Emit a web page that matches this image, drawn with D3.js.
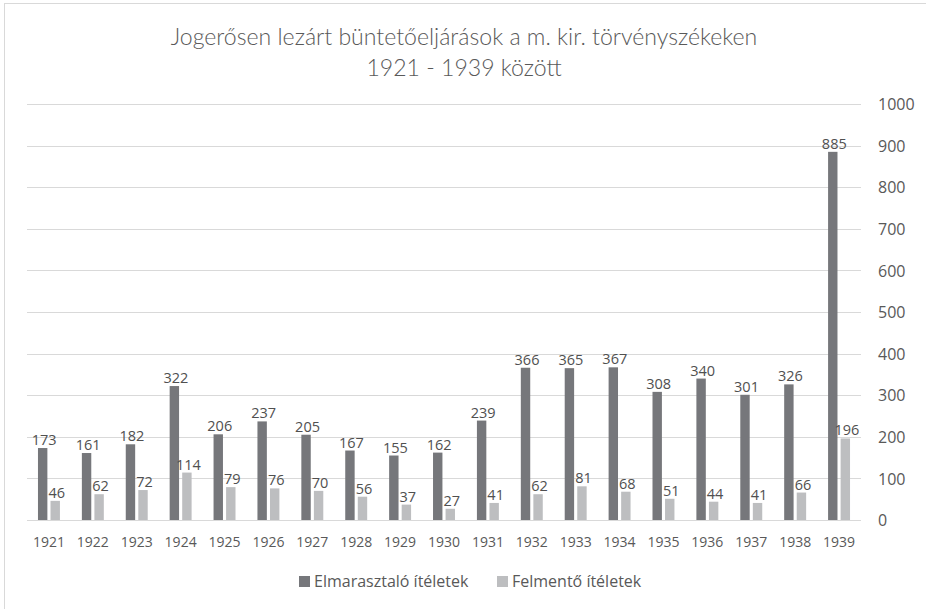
<!DOCTYPE html>
<html><head><meta charset="utf-8">
<script src="https://cdn.jsdelivr.net/npm/d3@7"></script>
<style>html,body{margin:0;padding:0;background:#fff;}svg{display:block;}</style>
</head><body>
<svg id="c" width="926" height="609"></svg>
<script>
const years = ["1921","1922","1923","1924","1925","1926","1927","1928","1929","1930","1931","1932","1933","1934","1935","1936","1937","1938","1939"];
const elmarasztalo = [173,161,182,322,206,237,205,167,155,162,239,366,365,367,308,340,301,326,885];
const felmento = [46,62,72,114,79,76,70,56,37,27,41,62,81,68,51,44,41,66,196];
const seriesNames = ["Elmarasztaló ítéletek","Felmentő ítéletek"];
const yTicks = [0,100,200,300,400,500,600,700,800,900,1000];
const titleLines = ["Jogerősen lezárt büntetőeljárások a m. kir. törvényszékeken","1921 - 1939 között"];

const colors = ["#76777b","#bdbec0"];
const textColor = "#595959";
const gridColor = "#d9d9d9";
const font = "'Open Sans', sans-serif";

const svg = d3.select("#c");
svg.append("rect").attr("x",4.5).attr("y",3.5).attr("width",930).attr("height",620)
  .attr("fill","#fff").attr("stroke","#d9d9d9").attr("stroke-width",1);

const pLeft = 27, pRight = 861, pTop = 104, pBottom = 520;
const x = d3.scaleBand().domain(years).range([pLeft,pRight]).padding(0);
const bw = x.bandwidth();
const xs = d3.scaleBand().domain([0,1]).range([bw*0.25, bw*0.75]).paddingInner(0.25).paddingOuter(0);
const y = d3.scaleLinear().domain([0,1000]).range([pBottom,pTop]);

// gridlines
svg.append("g").selectAll("line").data(yTicks).join("line")
  .attr("x1",pLeft).attr("x2",pRight)
  .attr("y1",d=>Math.round(y(d))+0.5).attr("y2",d=>Math.round(y(d))+0.5)
  .attr("stroke",gridColor).attr("stroke-width",1);

// right axis labels
const yAxis = d3.axisRight(y).tickValues(yTicks).tickSize(0).tickPadding(0).tickFormat(d3.format("d"));
const ya = svg.append("g").attr("transform",`translate(${878},0)`).call(yAxis);
ya.select(".domain").remove();
ya.selectAll("text").attr("font-family",font).attr("font-size",16).attr("fill",textColor).attr("dy","0.35em");

// x axis labels
const xAxis = d3.axisBottom(x).tickSize(0).tickPadding(0);
const xa = svg.append("g").attr("transform",`translate(0,${pBottom})`).call(xAxis);
xa.select(".domain").remove();
xa.selectAll("text").attr("font-family",font).attr("font-size",14).attr("fill",textColor).attr("y",27).attr("dy",0);

// bars
const series = [elmarasztalo, felmento];
series.forEach((vals, si) => {
  const g = svg.append("g");
  g.selectAll("rect").data(years).join("rect")
    .attr("x",(d)=>x(d)+xs(si))
    .attr("width",xs.bandwidth())
    .attr("y",(d,i)=>y(vals[i]))
    .attr("height",(d,i)=>pBottom - y(vals[i]))
    .attr("fill",colors[si]);
  g.selectAll("text").data(years).join("text")
    .attr("x",(d)=>x(d)+xs(si)+xs.bandwidth()/2+1.5)
    .attr("y",(d,i)=>y(vals[i])-3)
    .attr("text-anchor","middle")
    .attr("font-family",font).attr("font-size",14.5).attr("fill","#505050")
    .text((d,i)=>vals[i]);
});

// title
const tg = svg.append("g");
const titleY = [45, 76];
titleLines.forEach((t,i)=>{
  tg.append("text").attr("x",464).attr("y",titleY[i]).attr("text-anchor","middle")
    .attr("font-family","Lato, sans-serif").attr("font-weight",300).attr("font-size",20)
    .attr("fill",textColor).text(t);
});
const t0 = tg.select("text").node();
const w0 = t0.getComputedTextLength();
const fs = 20 * 587 / w0;
tg.selectAll("text").attr("font-size",fs);

// legend
const lg = svg.append("g");
const legX = [299, 497];
seriesNames.forEach((n,i)=>{
  lg.append("rect").attr("x",legX[i]).attr("y",576).attr("width",11).attr("height",11).attr("fill",colors[i]);
  lg.append("text").attr("x",legX[i]+15).attr("y",587).attr("font-family",font).attr("font-size",16)
    .attr("fill",textColor).text(n);
});
</script>
</body></html>
